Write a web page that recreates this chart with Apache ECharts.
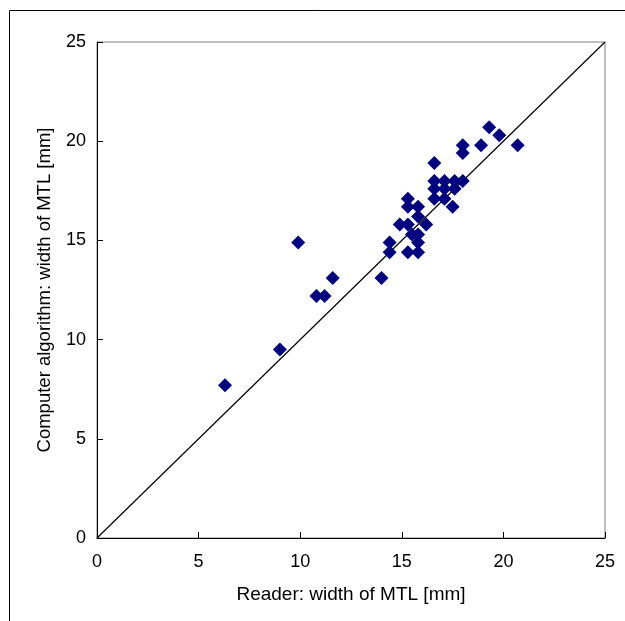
<!DOCTYPE html>
<html>
<head>
<meta charset="utf-8">
<script src="https://cdn.jsdelivr.net/npm/echarts@6/dist/echarts.min.js"></script>
<style>
  html, body { margin: 0; padding: 0; background: #fff; }
  #chart { width: 625px; height: 621px; }
</style>
</head>
<body>
<div id="chart"></div>
<script>
// reader width (x) vs computer algorithm width (y), mm
const readerMm = [
  6.3, 9.0, 9.9, 10.8, 11.2, 11.6, 14.0,
  14.4, 14.4, 14.9, 15.3, 15.3, 15.3, 15.3, 15.5, 15.8, 15.8, 15.8, 15.8, 15.8, 16.2,
  16.6, 16.6, 16.6, 16.6, 17.1, 17.1, 17.1, 17.5, 17.6, 17.6, 18.0,
  18.0, 18.0, 18.9, 19.3, 19.8, 20.7
];
const computerMm = [
  7.7, 9.5, 14.9, 12.2, 12.2, 13.1, 13.1,
  14.9, 14.4, 15.8, 17.1, 16.7, 15.8, 14.4, 15.3, 16.7, 16.2, 15.3, 14.9, 14.4, 15.8,
  18.9, 18.0, 17.6, 17.1, 18.0, 17.6, 17.1, 16.7, 18.0, 17.6, 18.0,
  19.8, 19.4, 19.8, 20.7, 20.3, 19.8
];
const axisTicks = [0, 5, 10, 15, 20, 25];
const identityLine = [[0, 0], [25, 25]];

const points = readerMm.map((x, i) => [x, computerMm[i]]);

const font = "Liberation Sans, Arial, sans-serif";

const chart = echarts.init(document.getElementById("chart"));
chart.setOption({
  animation: false,
  grid: {
    left: 97, top: 42, right: 20, bottom: 83,
    show: true,
    borderColor: "#808080",
    borderWidth: 1
  },
  graphic: [{
    type: "rect",
    shape: { x: 9.5, y: 10.5, width: 700, height: 700 },
    style: { fill: null, stroke: "#000", lineWidth: 1 },
    silent: true
  }],
  xAxis: {
    type: "value",
    min: axisTicks[0],
    max: axisTicks[axisTicks.length - 1],
    interval: 5,
    name: "Reader: width of MTL [mm]",
    nameLocation: "middle",
    nameGap: 47,
    nameTextStyle: { fontFamily: font, fontSize: 19, color: "#000" },
    axisLine: { lineStyle: { color: "#000", width: 1 } },
    axisTick: { inside: true, length: 6, lineStyle: { color: "#000" } },
    axisLabel: { fontFamily: font, fontSize: 18, color: "#000", margin: 15 },
    splitLine: { show: false }
  },
  yAxis: {
    type: "value",
    min: axisTicks[0],
    max: axisTicks[axisTicks.length - 1],
    interval: 5,
    name: "Computer algorithm: width of MTL [mm]",
    nameLocation: "middle",
    nameGap: 43,
    nameTextStyle: { fontFamily: font, fontSize: 18.5, color: "#000" },
    axisLine: { lineStyle: { color: "#000", width: 1 } },
    axisTick: { inside: true, length: 6, lineStyle: { color: "#000" } },
    axisLabel: { fontFamily: font, fontSize: 18, color: "#000", margin: 11 },
    splitLine: { show: false }
  },
  series: [
    {
      type: "line",
      data: identityLine,
      showSymbol: false,
      lineStyle: { color: "#000", width: 1.2 },
      z: 1
    },
    {
      type: "scatter",
      data: points,
      symbol: "diamond",
      symbolSize: [14, 14],
      itemStyle: { color: "#000080", opacity: 1 },
      z: 2
    }
  ]
});
</script>
</body>
</html>
